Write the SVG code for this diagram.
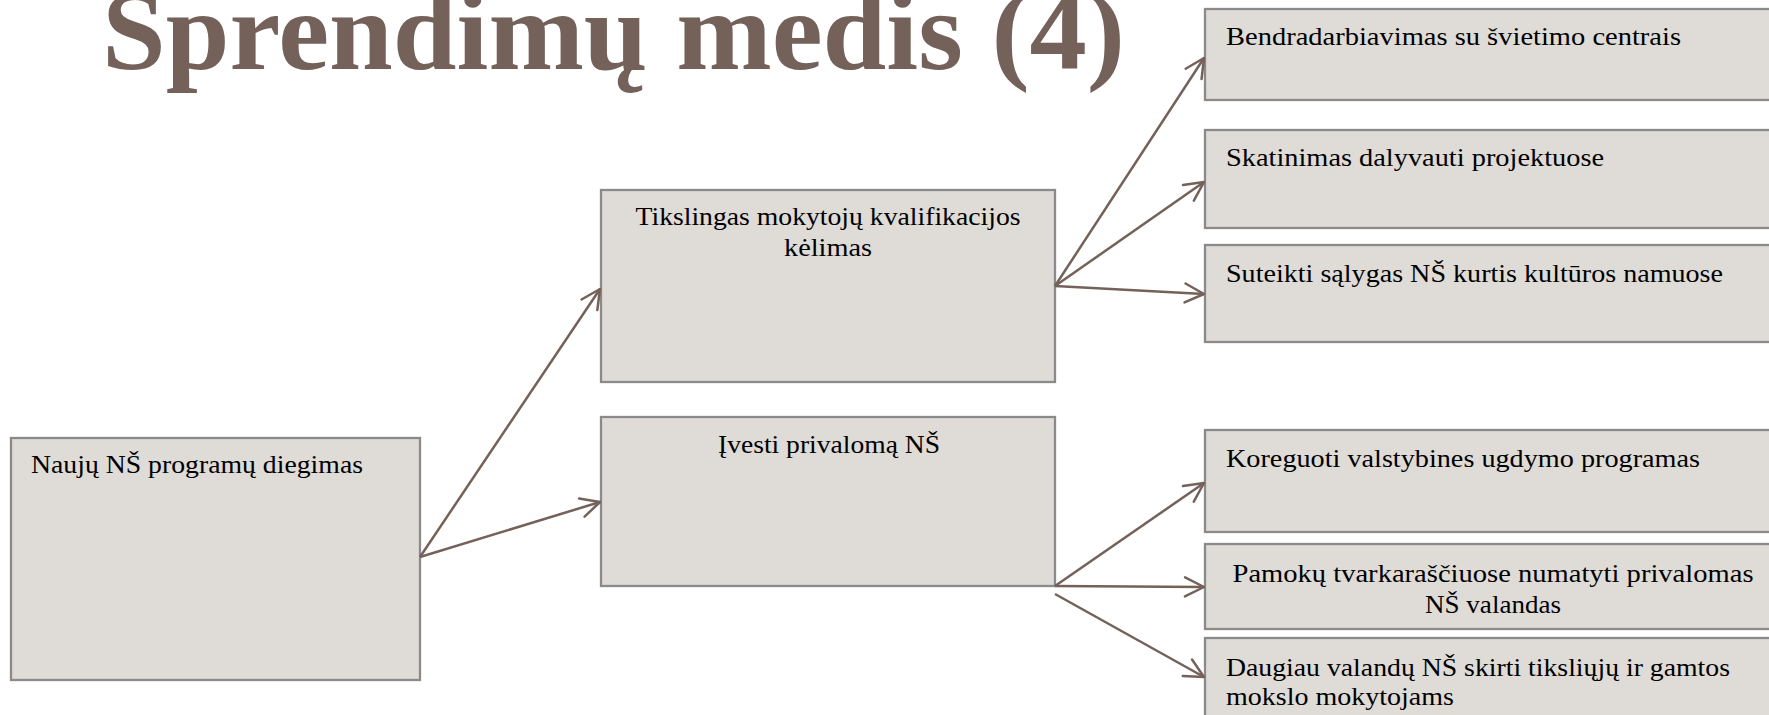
<svg xmlns="http://www.w3.org/2000/svg" width="1769" height="715" viewBox="0 0 1769 715">
<style>
.box{fill:#dfdbd7;stroke:#8a8a8a;stroke-width:2.3}
.t{font-family:"Liberation Serif","Times New Roman",serif;font-size:26px;fill:#000}
.c{text-anchor:middle}
.title{font-family:"Liberation Serif","Times New Roman",serif;font-weight:bold;font-size:112px;fill:#74625a}
.con{stroke:#74625a;stroke-width:2.5;fill:none;marker-end:url(#arr)}
</style>
<defs>
<marker id="arr" markerUnits="userSpaceOnUse" markerWidth="40" markerHeight="40" viewBox="-25 -20 30 40" refX="0" refY="0" orient="auto">
<path d="M-19,-9.5 L0,0 L-19,9.5" fill="none" stroke="#74625a" stroke-width="2.5" stroke-linecap="round" stroke-linejoin="round"/>
</marker>
</defs>
<rect width="1769" height="715" fill="#ffffff"/>
<text class="title" x="102" y="69" textLength="1023" lengthAdjust="spacingAndGlyphs">Sprendimų medis (4)</text>
<g id="root">
<rect class="box" x="11" y="438" width="409" height="242"/>
<text class="t" x="31" y="473" textLength="332" lengthAdjust="spacingAndGlyphs">Naujų NŠ programų diegimas</text>
</g>
<g id="mid1">
<rect class="box" x="601" y="190" width="454" height="192"/>
<text class="t c" x="828" y="225" textLength="385" lengthAdjust="spacingAndGlyphs">Tikslingas mokytojų kvalifikacijos</text>
<text class="t c" x="828" y="256" textLength="88" lengthAdjust="spacingAndGlyphs">kėlimas</text>
</g>
<g id="mid2">
<rect class="box" x="601" y="417" width="454" height="169"/>
<text class="t c" x="829" y="453" textLength="222" lengthAdjust="spacingAndGlyphs">Įvesti privalomą NŠ</text>
</g>
<g id="r1">
<rect class="box" x="1205" y="9" width="576" height="91"/>
<text class="t" x="1226" y="45" textLength="455" lengthAdjust="spacingAndGlyphs">Bendradarbiavimas su švietimo centrais</text>
</g>
<g id="r2">
<rect class="box" x="1205" y="130" width="576" height="98"/>
<text class="t" x="1226" y="166" textLength="378" lengthAdjust="spacingAndGlyphs">Skatinimas dalyvauti projektuose</text>
</g>
<g id="r3">
<rect class="box" x="1205" y="245" width="576" height="97"/>
<text class="t" x="1226" y="282" textLength="497" lengthAdjust="spacingAndGlyphs">Suteikti sąlygas NŠ kurtis kultūros namuose</text>
</g>
<g id="r4">
<rect class="box" x="1205" y="430" width="576" height="102"/>
<text class="t" x="1226" y="467" textLength="474" lengthAdjust="spacingAndGlyphs">Koreguoti valstybines ugdymo programas</text>
</g>
<g id="r5">
<rect class="box" x="1205" y="544" width="576" height="85"/>
<text class="t c" x="1493" y="582" textLength="521" lengthAdjust="spacingAndGlyphs">Pamokų tvarkaraščiuose numatyti privalomas</text>
<text class="t c" x="1493" y="613" textLength="136" lengthAdjust="spacingAndGlyphs">NŠ valandas</text>
</g>
<g id="r6">
<rect class="box" x="1205" y="638" width="576" height="100"/>
<text class="t" x="1226" y="676" textLength="504" lengthAdjust="spacingAndGlyphs">Daugiau valandų NŠ skirti tiksliųjų ir gamtos</text>
<text class="t" x="1226" y="705" textLength="228" lengthAdjust="spacingAndGlyphs">mokslo mokytojams</text>
</g>
<g id="connectors">
<line class="con" x1="420" y1="557" x2="600" y2="289"/>
<line class="con" x1="420" y1="557" x2="600" y2="502"/>
<line class="con" x1="1055" y1="286" x2="1204" y2="58"/>
<line class="con" x1="1055" y1="286" x2="1204" y2="182"/>
<line class="con" x1="1055" y1="286" x2="1204" y2="294"/>
<line class="con" x1="1055" y1="586" x2="1204" y2="483"/>
<line class="con" x1="1055" y1="586" x2="1204" y2="587"/>
<line class="con" x1="1055" y1="594" x2="1204" y2="677"/>
</g>
</svg>
